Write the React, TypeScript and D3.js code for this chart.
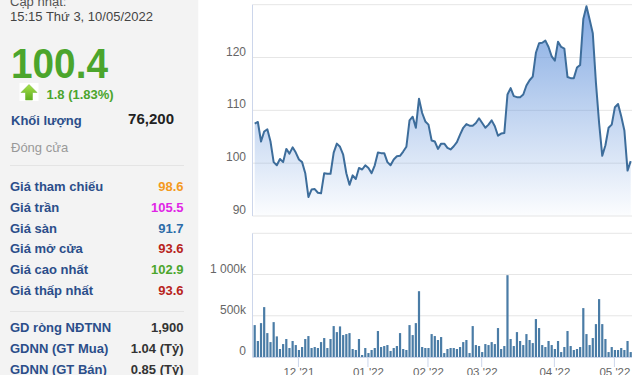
import React from "react";
import * as d3 from "d3";

// daily closes, Nov 2021 -> 10/05/2022 (trading days)
const prices = [
  107.5, 107.8, 104.1, 106.0, 106.4, 104.1, 100.2, 99.6, 100.8, 100.2,
  102.7, 101.8, 103.0, 102.0, 100.7, 100.2, 98.1, 93.6, 95.0, 95.1,
  94.4, 94.3, 98.1, 98.0, 98.0, 102.0, 103.7, 103.1, 101.6, 98.1,
  95.9, 97.7, 97.0, 99.1, 98.8, 99.6, 99.1, 98.1, 99.6, 102.0,
  101.9, 101.9, 100.2, 99.6, 100.7, 101.3, 101.4, 102.2, 103.1, 108.1,
  108.8, 106.7, 112.2, 109.5, 107.9, 107.3, 104.3, 104.1, 102.7, 103.7,
  103.7, 102.9, 102.6, 103.2, 104.0, 105.4, 106.7, 107.4, 107.1, 107.1,
  107.6, 108.5, 107.6, 106.7, 107.3, 108.1, 107.0, 105.2, 105.6, 105.7,
  113.0, 114.2, 112.7, 112.5, 112.5, 113.0, 114.7, 115.7, 116.4, 120.9,
  122.7, 122.8, 123.2, 122.0, 120.2, 119.4, 123.0, 122.0, 121.7, 116.3,
  116.1, 116.1, 118.1, 118.6, 127.3, 129.7, 127.2, 124.6, 115.2, 107.6,
  101.4, 103.4, 106.7, 107.3, 110.6, 111.2, 108.9, 106.2, 98.6, 100.4,
];

// volume in thousands
const volumes = [
  387, 194, 411, 605, 290, 181, 423, 250, 97, 157,
  218, 109, 194, 145, 85, 121, 218, 254, 109, 121,
  109, 181, 230, 109, 218, 375, 302, 371, 266, 278,
  290, 97, 85, 218, 24, 109, 48, 85, 109, 315,
  121, 133, 145, 73, 109, 133, 290, 97, 85, 387,
  266, 411, 798, 121, 109, 109, 278, 254, 206, 242,
  48, 97, 109, 109, 97, 121, 181, 206, 48, 375,
  145, 133, 60, 157, 145, 181, 157, 351, 97, 133,
  992, 218, 133, 302, 194, 145, 278, 206, 169, 460,
  351, 145, 121, 194, 145, 97, 194, 60, 121, 315,
  133, 85, 97, 121, 593, 278, 145, 230, 399, 702,
  399, 218, 60, 121, 85, 85, 109, 85, 194, 60,
];

const monthLabels = ["12 '21", "01 '22", "02 '22", "03 '22", "04 '22", "05 '22"];
const monthStart = [14, 36, 55, 72, 95, 114];

const priceTicks = [90, 100, 110, 120, 130];
const volumeTicks = [0, 500, 1000, 1500];
const volumeTickLabels = ["0", "500k", "1 000k", ""];

const infoLabels = ["Giá tham chiếu", "Giá trần", "Giá sàn", "Giá mở cửa", "Giá cao nhất", "Giá thấp nhất"];
const infoValues = ["98.6", "105.5", "91.7", "93.6", "102.9", "93.6"];
const infoColors = ["#f39a1e", "#e025e6", "#2c6ca8", "#b8241c", "#4ba52c", "#b8241c"];

const foreignLabels = ["GD ròng NĐTNN", "GDNN (GT Mua)", "GDNN (GT Bán)"];
const foreignValues = ["1,900", "1.04 (Tỷ)", "0.85 (Tỷ)"];

const FONT = "'Liberation Sans', Arial, sans-serif";
const LABEL_BLUE = "#2b4e8a";

export default function App() {
  const left = 252.5, right = 632;
  const x = d3.scaleLinear().domain([0, prices.length - 1]).range([254.7, 630.7]);
  const yP = d3.scaleLinear().domain([90, 130]).range([216, 4.7]);
  const yV = d3.scaleLinear().domain([0, 1500]).range([357, 233.3]);

  const area = d3.area<number>()
    .x((d, i) => x(i))
    .y0(yP(90))
    .y1(d => yP(d));
  const line = d3.line<number>()
    .x((d, i) => x(i))
    .y(d => yP(d));

  return (
    <div style={{ position: "absolute", left: 0, top: 0 }}>
      <svg width={640} height={375} style={{ display: "block", fontFamily: FONT }}>
        <defs>
          <linearGradient id="pfill" gradientUnits="userSpaceOnUse" x1="0" y1={yP(130)} x2="0" y2={yP(90)}>
            <stop offset="0" stopColor="rgb(95,145,218)" stopOpacity="0.78" />
            <stop offset="1" stopColor="rgb(95,145,218)" stopOpacity="0.02" />
          </linearGradient>
          <linearGradient id="arrow" x1="0" y1="0" x2="0" y2="1">
            <stop offset="0" stopColor="#a6e04a" />
            <stop offset="1" stopColor="#5fae1f" />
          </linearGradient>
        </defs>

        {/* left info panel */}
        <rect x={0} y={0} width={198.5} height={375} fill="#f3f3f3" />
        <rect x={198.5} y={0} width={441.5} height={375} fill="#ffffff" />

        <text x={10} y={6} fontSize={13} fill="#555">Cập nhật:</text>
        <text x={10} y={21} fontSize={13} fill="#444">15:15 Thứ 3, 10/05/2022</text>
        <text x={11} y={77.5} fontSize={42} fontWeight="bold" fill="#4ba52c"
          textLength={97} lengthAdjust="spacingAndGlyphs">100.4</text>

        <rect x={19.5} y={83} width={19} height={18} fill="#ffffff" />
        <path d="M29,84.5 L37,92.5 L32.5,92.5 L32.5,100 L25.5,100 L25.5,92.5 L21,92.5 Z"
          fill="url(#arrow)" stroke="#6cb52a" strokeWidth={0.5} />
        <text x={46.5} y={98.5} fontSize={13} fontWeight="bold" fill="#4ba52c">1.8 (1.83%)</text>

        <text x={11} y={125} fontSize={13} fontWeight="bold" fill={LABEL_BLUE}>Khối lượng</text>
        <text x={174} y={124} fontSize={15} fontWeight="bold" fill="#222" textAnchor="end">76,200</text>
        <text x={11} y={152} fontSize={13} fill="#999">Đóng cửa</text>

        <line x1={10} x2={184} y1={165.5} y2={165.5} stroke="#e4e4e4" />
        {infoLabels.map((lab, i) => (
          <g key={lab}>
            <text x={10} y={191 + i * 20.8} fontSize={13} fontWeight="bold" fill={LABEL_BLUE}>{lab}</text>
            <text x={183.5} y={191 + i * 20.8} fontSize={13} fontWeight="bold" fill={infoColors[i]}
              textAnchor="end">{infoValues[i]}</text>
          </g>
        ))}
        <line x1={10} x2={184} y1={311.5} y2={311.5} stroke="#e4e4e4" />
        {foreignLabels.map((lab, i) => (
          <g key={lab}>
            <text x={10} y={332 + i * 21} fontSize={13} fontWeight="bold" fill={LABEL_BLUE}>{lab}</text>
            <text x={183.5} y={332 + i * 21} fontSize={13} fontWeight="bold" fill="#333"
              textAnchor="end">{foreignValues[i]}</text>
          </g>
        ))}

        {/* price panel */}
        {priceTicks.map(t => (
          <g key={t}>
            <line x1={left} x2={right} y1={yP(t)} y2={yP(t)} stroke="#e6e6e6" />
            {t < 130 && (
              <text x={246} y={yP(t) - 2} fontSize={12} fill="#666" textAnchor="end">{t}</text>
            )}
          </g>
        ))}
        <path d={area(prices) ?? ""} fill="url(#pfill)" />
        <path d={line(prices) ?? ""} fill="none" stroke="#3d6d9b" strokeWidth={2} strokeLinejoin="round" />
        <line x1={left} x2={left} y1={yP(130)} y2={yP(90)} stroke="#ccd6eb" />

        {/* volume panel */}
        {volumeTicks.map((t, i) => (
          <g key={t}>
            <line x1={left} x2={right} y1={yV(t)} y2={yV(t)} stroke="#e6e6e6" />
            {volumeTickLabels[i] && (
              <text x={246} y={yV(t) - 2} fontSize={12} fill="#666" textAnchor="end">{volumeTickLabels[i]}</text>
            )}
          </g>
        ))}
        {volumes.map((v, i) => (
          <rect key={i} x={x(i) - 1.1} y={yV(v)} width={2.2} height={yV(0) - yV(v)} fill="#4a7ca6" />
        ))}
        <line x1={left} x2={left} y1={yV(1500)} y2={yV(0)} stroke="#ccd6eb" />
        <line x1={left} x2={right} y1={yV(0) + 0.5} y2={yV(0) + 0.5} stroke="#ccd6eb" />

        {/* month axis */}
        {monthStart.map((m, i) => (
          <g key={m}>
            <line x1={x(m) - 0.5} x2={x(m) - 0.5} y1={yV(0)} y2={yV(0) + 10} stroke="#ccd6eb" />
            <text x={x(m)} y={376} fontSize={11.5} fill="#666" textAnchor="middle">{monthLabels[i]}</text>
          </g>
        ))}
      </svg>
    </div>
  );
}
